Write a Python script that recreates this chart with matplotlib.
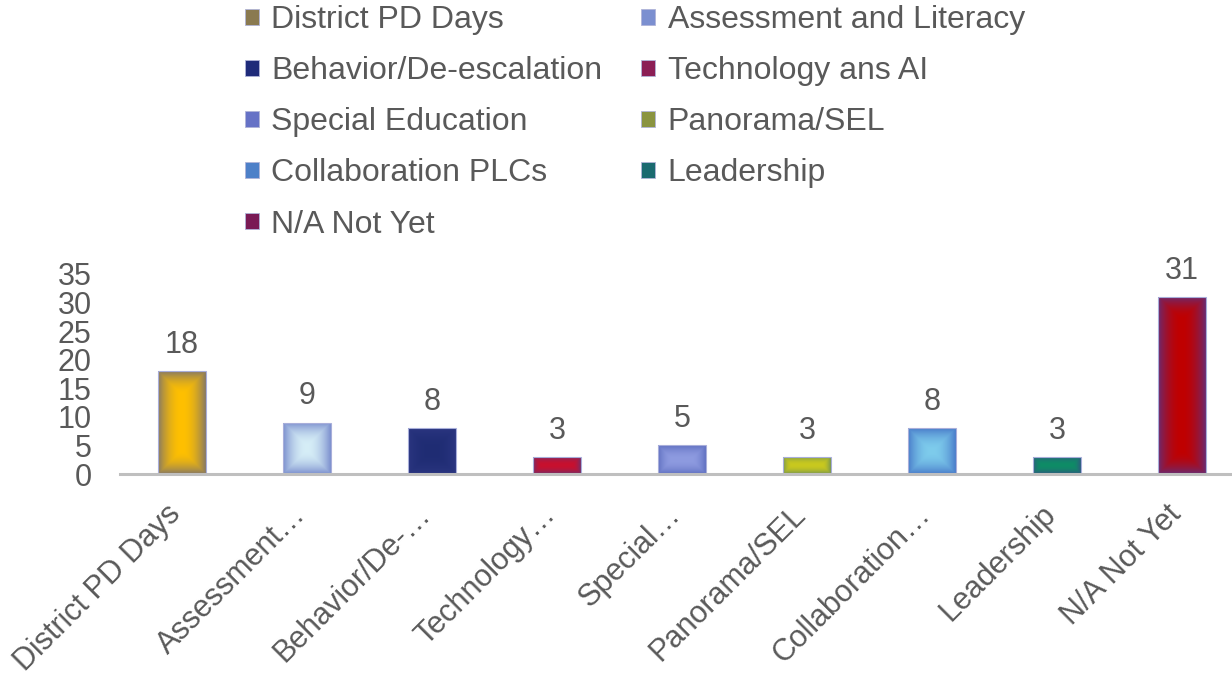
import numpy as np
import matplotlib.pyplot as plt
from matplotlib.patches import Patch
from matplotlib.colors import to_rgb

plt.rcParams['font.family'] = ['Liberation Sans', 'DejaVu Sans']

# данные
categories = ['District PD Days', 'Assessment and Literacy', 'Behavior/De-escalation',
              'Technology ans AI', 'Special Education', 'Panorama/SEL',
              'Collaboration PLCs', 'Leadership', 'N/A Not Yet']
tick_labels = ['District PD Days', 'Assessment…', 'Behavior/De-…', 'Technology…',
               'Special…', 'Panorama/SEL', 'Collaboration…', 'Leadership', 'N/A Not Yet']
values = [18, 9, 8, 3, 5, 3, 8, 3, 31]

# цвета: центр градиента, край градиента, маркер легенды
center_colors = ['#FFC000', '#D6EEF7', '#1F2C73', '#C8102E', '#8E9BE0',
                 '#C9C91E', '#7ECCEC', '#0E8C66', '#C00000']
edge_colors = ['#8B7B60', '#7E92CF', '#2A3580', '#7B2A63', '#6373C3',
               '#7F9A4A', '#4B7FCB', '#2B5E7D', '#6C2A6E']
legend_colors = ['#8A7A50', '#7B8FD0', '#1F2B7A', '#8B1E55', '#6672C6',
                 '#8A9440', '#4D80C8', '#1A6A70', '#7A1A55']

text_color = '#595959'

fig = plt.figure(figsize=(12.32, 6.79), dpi=100)
ax = fig.add_axes([119.5 / 1232, 1 - 474 / 679, 1125 / 1232, 200 / 679])

x = np.arange(len(categories))
bars = ax.bar(x, values, width=0.38, color='none', edgecolor='#A8AEDA', linewidth=0.8, zorder=3)

ax.set_xlim(-0.5, 8.5)
ax.set_ylim(0, 35)

# градиентная заливка "от центра" для каждого столбика (в пикселях)
for rect, c0, c1 in zip(bars, center_colors, edge_colors):
    c0 = np.array(to_rgb(c0))
    c1 = np.array(to_rgb(c1))
    x0, y0 = rect.get_x(), rect.get_y()
    w, h = rect.get_width(), rect.get_height()
    (px0, py0), (px1, py1) = ax.transData.transform([(x0, y0), (x0 + w, y0 + h)])
    wp, hp = px1 - px0, py1 - py0
    nx, ny = max(int(wp), 2), max(int(hp), 2)
    gx = np.linspace(0, wp, nx)
    gy = np.linspace(0, hp, ny)
    GX, GY = np.meshgrid(gx, gy)
    d = np.minimum(np.minimum(GX, wp - GX), np.minimum(GY, hp - GY))
    s = min(wp, hp) / 2
    T = np.clip(1 - d / s, 0, 1) ** 2.0
    img = c0 + (c1 - c0) * T[..., None]
    im = ax.imshow(img, extent=(x0, x0 + w, y0, y0 + h), aspect='auto', zorder=2,
                   interpolation='bilinear', origin='lower')
    im.set_clip_path(rect)

ax.set_xlim(-0.5, 8.5)
ax.set_ylim(0, 35)

ax.bar_label(bars, labels=[str(v) for v in values], padding=8, fontsize=22, color=text_color)

ax.set_yticks(range(0, 36, 5))
ax.set_xticks(x)
ax.set_xticklabels(tick_labels, rotation=45, ha='right', va='baseline', rotation_mode='anchor',
                   fontsize=22, color=text_color)
ax.tick_params(axis='y', length=0, pad=20, labelsize=22, labelcolor=text_color)
ax.tick_params(axis='x', length=0, pad=30)

for s in ['top', 'right', 'left']:
    ax.spines[s].set_visible(False)
ax.spines['bottom'].set_color('#BFBFBF')
ax.spines['bottom'].set_linewidth(2.2)
ax.spines['bottom'].set_zorder(4)

# легенда: порядок по строкам
handles = [Patch(facecolor=c, edgecolor='#B0B4D8', linewidth=0.6, label=l)
           for c, l in zip(legend_colors, categories)]
order = [0, 2, 4, 6, 8, 1, 3, 5, 7]
fig.legend([handles[i] for i in order], [categories[i] for i in order],
           loc='upper left', bbox_to_anchor=(242 / 1232, 1 - 2 / 679), ncol=2, frameon=False,
           fontsize=23, labelcolor=text_color, handlelength=0.42, handleheight=0.42,
           handletextpad=0.4, columnspacing=1.22, labelspacing=0.66, borderaxespad=0,
           borderpad=0.1)

fig.savefig('out.png', dpi=100)
